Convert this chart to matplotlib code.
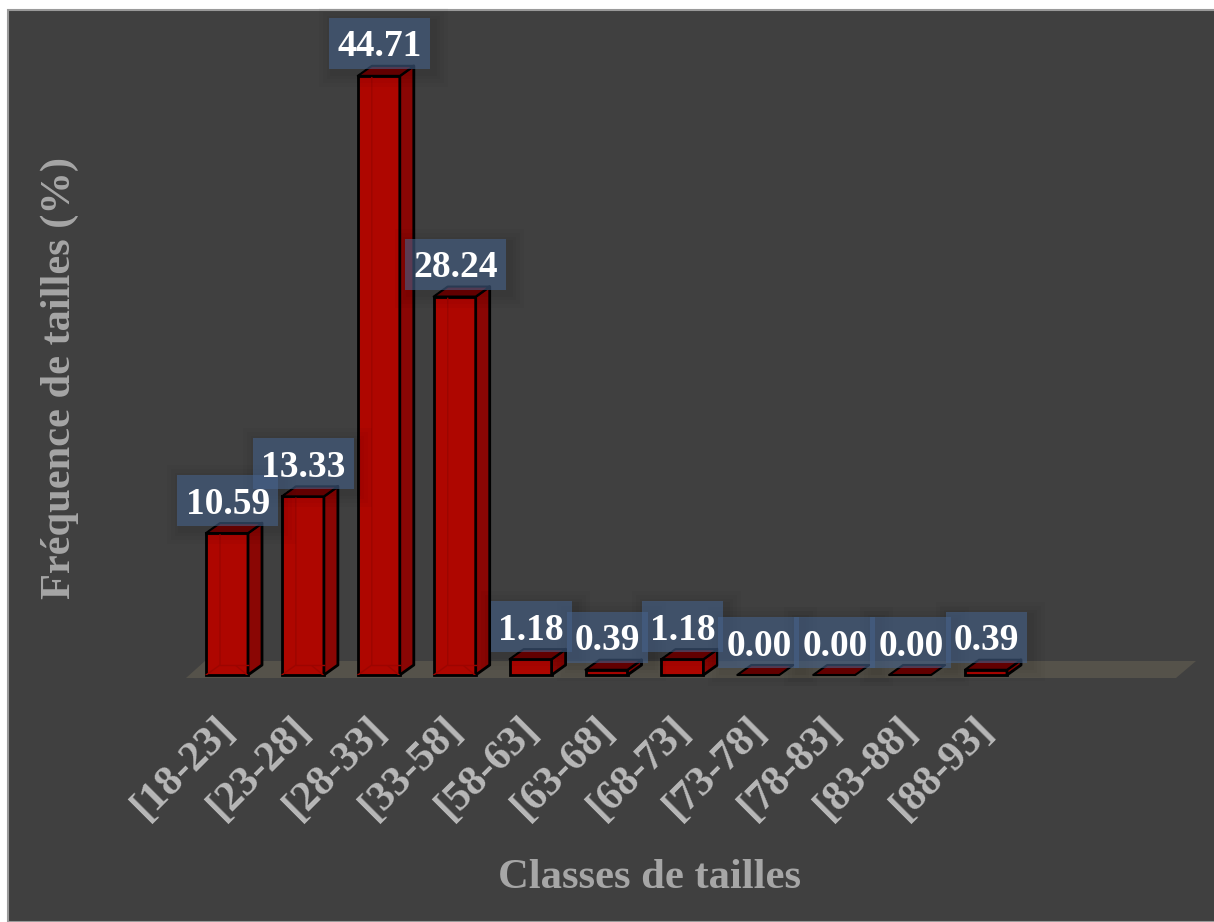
import matplotlib
matplotlib.use('Agg')
import matplotlib.pyplot as plt
from matplotlib.patches import Polygon, Rectangle
from matplotlib.transforms import ScaledTranslation

classes = ['[18-23]', '[23-28]', '[28-33]', '[33-58]', '[58-63]', '[63-68]',
           '[68-73]', '[73-78]', '[78-83]', '[83-88]', '[88-93]']
freq = [10.59, 13.33, 44.71, 28.24, 1.18, 0.39, 1.18, 0.00, 0.00, 0.00, 0.39]

W, H = 1214, 922
base_px = 675
px_per_unit = 13.4
px_per_cat = 75.9
x0_px = 227

plt.rcParams['font.family'] = ['Liberation Serif', 'DejaVu Serif']

fig = plt.figure(figsize=(W / 100, H / 100), dpi=100, facecolor='white')

# dark chart area, cut a little at the top left like the screenshot
fig.patches.append(Rectangle((8 / W, 0), 1, 1 - 10 / H, transform=fig.transFigure,
                             facecolor='#404040', edgecolor='#9a9a9a', lw=1.5, zorder=-1))

ax = fig.add_axes([0, (H - base_px) / H, 1, base_px / H])
ax.patch.set_alpha(0)
ax.set_xlim(-x0_px / px_per_cat, (W - x0_px) / px_per_cat)
ax.set_ylim(0, base_px / px_per_unit)
for s in ax.spines.values():
    s.set_visible(False)
ax.yaxis.set_visible(False)

bw = 21 / px_per_cat      # half width of a bar
dx = 14 / px_per_cat      # depth of the 3d effect
dy = 10 / px_per_unit

# floor
ax.add_patch(Polygon([(-41 / px_per_cat, -3 / px_per_unit),
                      (949 / px_per_cat, -3 / px_per_unit),
                      (969 / px_per_cat, 14 / px_per_unit),
                      (-22 / px_per_cat, 14 / px_per_unit)],
                     facecolor='#55524a', edgecolor='none', clip_on=False, zorder=1))

for i, v in enumerate(freq):
    l, r = i - bw, i + bw
    if v > 0:
        ax.add_patch(Rectangle((l, 0), 2 * bw, v, facecolor='#ae0600', edgecolor='black',
                               lw=2, zorder=3, clip_on=False))
        # side
        ax.add_patch(Polygon([(r, 0), (r + dx, dy), (r + dx, v + dy), (r, v)],
                             facecolor='#8a0604', edgecolor='black', lw=2, zorder=3,
                             joinstyle='round', clip_on=False))
        # back edges showing through the front face
        if v > 5:
            ax.plot([l, l + dx, l + dx], [0, dy, v], color='#9c0500', lw=1, zorder=3.1)
            ax.plot([l + dx, r], [dy, dy], color='#9c0500', lw=1, zorder=3.1)
            ax.plot([r - 0.01, r - dx / 1.2], [0, dy * 0.9], color='#9c0500', lw=1, zorder=3.1)
    # top
    ax.add_patch(Polygon([(l, v), (r, v), (r + dx, v + dy), (l + dx, v + dy)],
                         facecolor='#6e0000', edgecolor='black', lw=1.5, zorder=3.2,
                         joinstyle='round', clip_on=False))

# value labels
for i, v in enumerate(freq):
    box_w = 101 if v >= 10 else 81
    ax.annotate(f'{v:.2f}', (i, v), xytext=(0.5, 29 * 72 / 100), textcoords='offset points',
                ha='center', va='center', color='white', fontsize=27, fontweight='bold',
                zorder=5)
    # box in pixels around the value
    xpx = x0_px + i * px_per_cat
    ypx = v * px_per_unit
    bx = (xpx - x0_px - box_w / 2 + 0.5) / px_per_cat
    by = (ypx + 7) / px_per_unit
    bw_u = box_w / px_per_cat
    bh_u = 51 / px_per_unit
    # soft shadow, a few growing rectangles
    for g in [14, 10, 6, 3]:
        ax.add_patch(Rectangle((bx + (4 - g) / px_per_cat, by - (4 + g) / px_per_unit),
                               bw_u + 2 * g / px_per_cat, bh_u + 2 * g / px_per_unit,
                               facecolor='black', edgecolor='none', alpha=0.025,
                               zorder=3.5, clip_on=False))
    ax.add_patch(Rectangle((bx, by), bw_u, bh_u, facecolor='#46628a',
                           edgecolor='none', alpha=0.6, zorder=4, clip_on=False))

ax.set_xticks(range(len(classes)))
ax.set_xticklabels(classes, rotation=45, ha='right', va='top', rotation_mode='anchor',
                   fontsize=30.5, fontweight='bold', color='#b8b8b8')
ax.tick_params(axis='x', length=0, pad=25)
# tick labels sit a bit left of the bar centre
shift = ScaledTranslation(-12 / 100, 0, fig.dpi_scale_trans)
for lab in ax.get_xticklabels():
    lab.set_transform(lab.get_transform() + shift)

fig.text(649 / W, 1 - 878 / H, 'Classes de tailles', ha='center', va='center',
         fontsize=30.7, fontweight='bold', color='#a6a6a6')
fig.text(60 / W, 1 - 378 / H, 'Fréquence de tailles (%)', rotation=90, ha='center', va='center',
         fontsize=30.5, fontweight='bold', color='#a6a6a6')

fig.savefig('out.png', dpi=100, facecolor=fig.get_facecolor())
